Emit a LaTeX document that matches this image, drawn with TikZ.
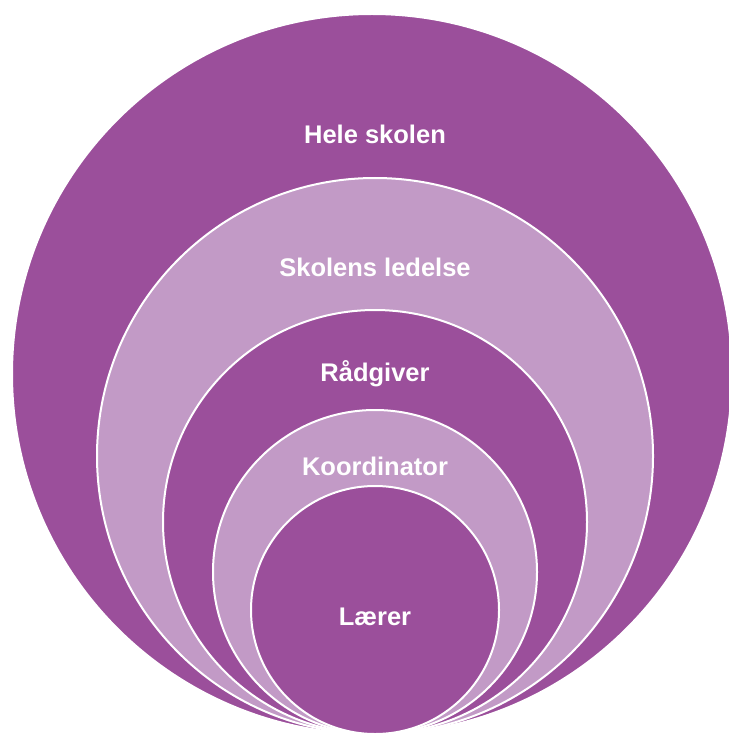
\documentclass[tikz,border=0pt]{standalone}
\usepackage{fontspec}
\setmainfont{Liberation Sans}
\definecolor{dark}{HTML}{9B4F9B}
\definecolor{light}{HTML}{C29AC6}
\begin{document}
\begin{tikzpicture}[x=1pt,y=-1pt,ring/.style={circle,draw=white,line width=2pt,inner sep=0pt},lbl/.style={text=white,anchor=base,font=\bfseries\fontsize{25.5}{30}\selectfont}]
    \useasboundingbox (0,0) rectangle (728,735);
    \node [ring,fill=dark,minimum size=720pt] (hele) at (372,374) {};
    \node [ring,fill=light,minimum size=556pt] (ledelse) at (375,456) {};
    \node [ring,fill=dark,minimum size=424pt] (raad) at (375,522) {};
    \node [ring,fill=light,minimum size=324pt] (koord) at (375,572) {};
    \node [ring,fill=dark,minimum size=248pt] (laerer) at (375,610) {};
    \node [lbl] (t1) at (375,144) {Hele skolen};
    \node [lbl] (t2) at (375,276) {Skolens ledelse};
    \node [lbl] (t3) at (375,381) {Rådgiver};
    \node [lbl] (t4) at (375,475) {Koordinator};
    \node [lbl] (t5) at (375,625) {Lærer};
    \end{tikzpicture}
\end{document}
